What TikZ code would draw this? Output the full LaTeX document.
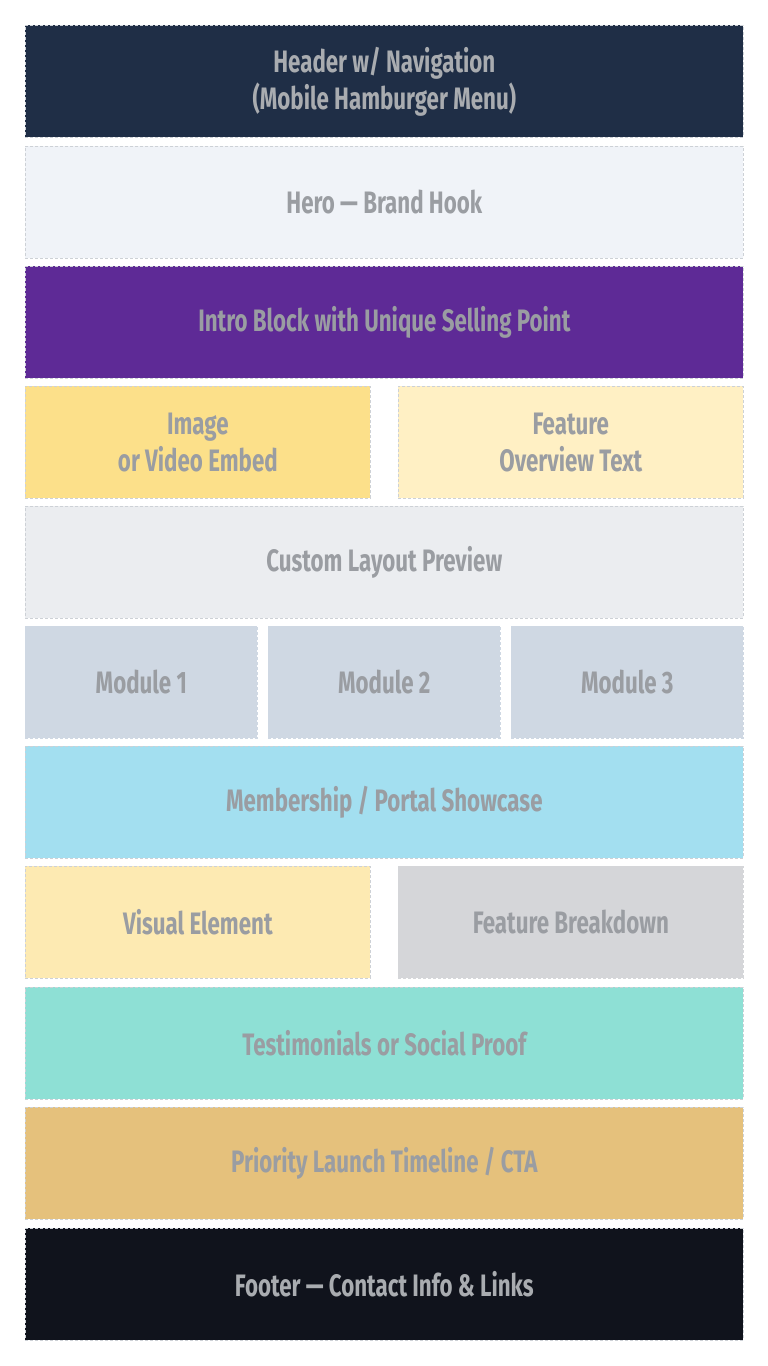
\documentclass[tikz,border=0pt]{standalone}
\usepackage{fontspec}
\setmainfont{Fira Sans}[FakeStretch=0.72]
\usetikzlibrary{positioning}

\definecolor{headerblue}{HTML}{1F2E46}
\definecolor{herogrey}{HTML}{F0F3F8}
\definecolor{intropurple}{HTML}{5E2A96}
\definecolor{imageyellow}{HTML}{FCE08A}
\definecolor{featureyellow}{HTML}{FFF0C4}
\definecolor{customgrey}{HTML}{EBEDF0}
\definecolor{moduleblue}{HTML}{CFD8E3}
\definecolor{portalcyan}{HTML}{A3DFF0}
\definecolor{visualyellow}{HTML}{FDEAB2}
\definecolor{breakdowngrey}{HTML}{D5D6D9}
\definecolor{proofteal}{HTML}{8EE0D5}
\definecolor{launchgold}{HTML}{E5C17C}
\definecolor{footerblack}{HTML}{10131C}
\definecolor{edgegrey}{HTML}{CDD1D6}
\definecolor{labelgrey}{HTML}{9A9DA2}

\tikzset{
  block/.style={draw=edgegrey, dash pattern=on 3pt off 2pt, line width=0.7pt,
    anchor=north west, inner sep=0pt, align=center, text=labelgrey,
    font=\fontsize{31}{37}\selectfont\bfseries},
  full/.style={block, minimum width=718pt, minimum height=112pt},
  half/.style={block, minimum width=345pt, minimum height=112pt},
  third/.style={block, minimum width=232pt, minimum height=112pt}
}

\begin{document}
\begin{tikzpicture}[x=1pt,y=-1pt]
  \useasboundingbox (0,0) rectangle (768,1366);
  \node[full, fill=headerblue, text=labelgrey!85!white] (header) at (25,25) {Header w/ Navigation\\(Mobile Hamburger Menu)};
  \node[full, fill=herogrey] (hero) at (25,146) {Hero — Brand Hook};
  \node[full, fill=intropurple] (intro) at (25,266) {Intro Block with Unique Selling Point};
  \node[half, fill=imageyellow] (image) at (25,386) {Image\\or Video Embed};
  \node[half, fill=featureyellow] (overview) at (398,386) {Feature\\Overview Text};
  \node[full, fill=customgrey] (custom) at (25,506) {Custom Layout Preview};
  \node[third, fill=moduleblue, draw=moduleblue] (modone) at (25,626) {Module 1};
  \node[third, fill=moduleblue, draw=moduleblue] (modtwo) at (268,626) {Module 2};
  \node[third, fill=moduleblue, draw=moduleblue] (modthree) at (511,626) {Module 3};
  \node[full, fill=portalcyan] (portal) at (25,746) {Membership / Portal Showcase};
  \node[half, fill=visualyellow] (visual) at (25,866) {Visual Element};
  \node[half, fill=breakdowngrey, draw=breakdowngrey] (breakdown) at (398,866) {Feature Breakdown};
  \node[full, fill=proofteal] (proof) at (25,987) {Testimonials or Social Proof};
  \node[full, fill=launchgold] (launch) at (25,1107) {Priority Launch Timeline / CTA};
  \node[full, fill=footerblack, text=labelgrey!85!white] (footer) at (25,1228) {Footer — Contact Info \& Links};
\end{tikzpicture}
\end{document}
